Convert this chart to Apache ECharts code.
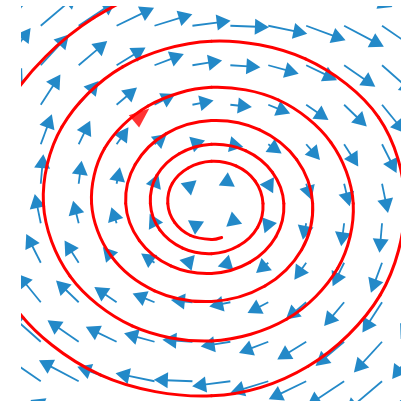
<!DOCTYPE html>
<html>
<head>
<meta charset="utf-8">
<script src="https://cdn.jsdelivr.net/npm/echarts/dist/echarts.min.js"></script>
<style>html,body{margin:0;padding:0;background:#fff}#c{width:401px;height:403px}</style>
</head>
<body>
<div id="c"></div>
<script>
// grid positions of the arrows (data units)
const gridX = [-5.5, -4.5, -3.5, -2.5, -1.5, -0.5, 0.5, 1.5, 2.5, 3.5, 4.5, 5.5];
const gridY = [5.5, 4.5, 3.5, 2.5, 1.5, 0.5, -0.5, -1.5, -2.5, -3.5, -4.5, -5.5];

// horizontal vector component, one row per gridY value
const fieldU = [
  [4.73, 4.77, 4.81, 4.85, 4.89, 4.93, 4.97, 5.01, 5.05, 5.09, 5.13, 5.17],
  [3.83, 3.87, 3.91, 3.95, 3.99, 4.03, 4.07, 4.11, 4.15, 4.19, 4.23, 4.27],
  [2.93, 2.97, 3.01, 3.05, 3.09, 3.13, 3.17, 3.21, 3.25, 3.29, 3.33, 3.37],
  [2.03, 2.07, 2.11, 2.15, 2.19, 2.23, 2.27, 2.31, 2.35, 2.39, 2.43, 2.47],
  [1.13, 1.17, 1.21, 1.25, 1.29, 1.33, 1.37, 1.41, 1.45, 1.49, 1.53, 1.57],
  [0.23, 0.27, 0.31, 0.35, 0.39, 0.43, 0.47, 0.51, 0.55, 0.59, 0.63, 0.67],
  [-0.67, -0.63, -0.59, -0.55, -0.51, -0.47, -0.43, -0.39, -0.35, -0.31, -0.27, -0.23],
  [-1.57, -1.53, -1.49, -1.45, -1.41, -1.37, -1.33, -1.29, -1.25, -1.21, -1.17, -1.13],
  [-2.47, -2.43, -2.39, -2.35, -2.31, -2.27, -2.23, -2.19, -2.15, -2.11, -2.07, -2.03],
  [-3.37, -3.33, -3.29, -3.25, -3.21, -3.17, -3.13, -3.09, -3.05, -3.01, -2.97, -2.93],
  [-4.27, -4.23, -4.19, -4.15, -4.11, -4.07, -4.03, -3.99, -3.95, -3.91, -3.87, -3.83],
  [-5.17, -5.13, -5.09, -5.05, -5.01, -4.97, -4.93, -4.89, -4.85, -4.81, -4.77, -4.73]
];

// vertical vector component, one row per gridY value
const fieldV = [
  [3.85, 3.19, 2.53, 1.87, 1.21, 0.55, -0.11, -0.77, -1.43, -2.09, -2.75, -3.41],
  [3.81, 3.15, 2.49, 1.83, 1.17, 0.51, -0.15, -0.81, -1.47, -2.13, -2.79, -3.45],
  [3.77, 3.11, 2.45, 1.79, 1.13, 0.47, -0.19, -0.85, -1.51, -2.17, -2.83, -3.49],
  [3.73, 3.07, 2.41, 1.75, 1.09, 0.43, -0.23, -0.89, -1.55, -2.21, -2.87, -3.53],
  [3.69, 3.03, 2.37, 1.71, 1.05, 0.39, -0.27, -0.93, -1.59, -2.25, -2.91, -3.57],
  [3.65, 2.99, 2.33, 1.67, 1.01, 0.35, -0.31, -0.97, -1.63, -2.29, -2.95, -3.61],
  [3.61, 2.95, 2.29, 1.63, 0.97, 0.31, -0.35, -1.01, -1.67, -2.33, -2.99, -3.65],
  [3.57, 2.91, 2.25, 1.59, 0.93, 0.27, -0.39, -1.05, -1.71, -2.37, -3.03, -3.69],
  [3.53, 2.87, 2.21, 1.55, 0.89, 0.23, -0.43, -1.09, -1.75, -2.41, -3.07, -3.73],
  [3.49, 2.83, 2.17, 1.51, 0.85, 0.19, -0.47, -1.13, -1.79, -2.45, -3.11, -3.77],
  [3.45, 2.79, 2.13, 1.47, 0.81, 0.15, -0.51, -1.17, -1.83, -2.49, -3.15, -3.81],
  [3.41, 2.75, 2.09, 1.43, 0.77, 0.11, -0.55, -1.21, -1.87, -2.53, -3.19, -3.85]
];

// red trajectory, from its inner end outward
const spiralX = [0.27, 0, -0.55, -0.97, -1.15, -1.03, -0.61, 0, 0.65, 1.15,
  1.36, 1.22, 0.72, 0, -0.76, -1.36, -1.61, -1.44, -0.85, 0,
  0.90, 1.61, 1.91, 1.70, 1.01, 0, -1.07, -1.90, -2.26, -2.01,
  -1.19, 0, 1.26, 2.25, 2.67, 2.38, 1.41, 0, -1.50, -2.66,
  -3.16, -2.82, -1.67, 0, 1.77, 3.15, 3.74, 3.33, 1.98, 0,
  -2.09, -3.73, -4.43, -3.94, -2.34, 0, 2.48, 4.41, 5.10, 4.45,
  2.55, 0, -2.93, -5.22, -6.05, -5.35, -3.10, 0, 3.75, 6.70, 7.80];
const spiralY = [-0.86, -0.91, -0.81, -0.48, 0, 0.51, 0.90, 1.07, 0.95, 0.57,
  0, -0.60, -1.07, -1.27, -1.13, -0.67, 0, 0.71, 1.26, 1.50,
  1.34, 0.79, 0, -0.84, -1.49, -1.77, -1.58, -0.94, 0, 0.99,
  1.77, 2.10, 1.87, 1.11, 0, -1.17, -2.09, -2.48, -2.21, -1.31,
  0, 1.39, 2.47, 2.94, 2.62, 1.55, 0, -1.64, -2.93, -3.48,
  -3.10, -1.84, 0, 1.94, 3.46, 4.11, 3.66, 2.18, 0, -2.32,
  -4.12, -4.87, -4.34, -2.57, 0, 2.55, 4.70, 5.80, 5.60, 3.90, 0];

// direction marker on the trajectory
const markerPoint = [-1.84, 2.24];
const markerRotate = -50;

const BLUE = '#2389c8';
const RED = '#ff0000';
const ARROW_SCALE = 0.25;

const quiverData = [];
gridY.forEach((y, j) => {
  gridX.forEach((x, i) => {
    quiverData.push([x, y, fieldU[j][i], fieldV[j][i]]);
  });
});
const spiralData = spiralX.map((x, i) => [x, spiralY[i]]);

function renderArrow(params, api) {
  const x = api.value(0), y = api.value(1), u = api.value(2), v = api.value(3);
  const p0 = api.coord([x, y]);
  const p1 = api.coord([x + u * ARROW_SCALE, y + v * ARROW_SCALE]);
  const dx = p1[0] - p0[0], dy = p1[1] - p0[1];
  const len = Math.hypot(dx, dy) || 1e-6;
  const ux = dx / len, uy = dy / len;
  const HL = 14, HW = 8;
  const bx = p1[0] - ux * HL, by = p1[1] - uy * HL;
  const children = [];
  if (len > HL) {
    children.push({
      type: 'line',
      shape: { x1: p0[0], y1: p0[1], x2: bx + ux * 2, y2: by + uy * 2 },
      style: { stroke: BLUE, lineWidth: 1.8 }
    });
  }
  children.push({
    type: 'polygon',
    shape: { points: [[p1[0], p1[1]], [bx - uy * HW, by + ux * HW], [bx + uy * HW, by - ux * HW]] },
    style: { fill: BLUE }
  });
  return { type: 'group', children: children };
}

// one smooth (Catmull-Rom) segment of the trajectory per data item
function renderSpiral(params, api) {
  const i = params.dataIndex;
  const n = spiralData.length;
  if (i >= n - 1) return null;
  const P = (k) => api.coord(spiralData[Math.max(0, Math.min(n - 1, k))]);
  const p0 = P(i - 1), p1 = P(i), p2 = P(i + 1), p3 = P(i + 2);
  return {
    type: 'bezierCurve',
    shape: {
      x1: p1[0], y1: p1[1], x2: p2[0], y2: p2[1],
      cpx1: p1[0] + (p2[0] - p0[0]) / 6, cpy1: p1[1] + (p2[1] - p0[1]) / 6,
      cpx2: p2[0] - (p3[0] - p1[0]) / 6, cpy2: p2[1] - (p3[1] - p1[1]) / 6
    },
    style: { stroke: RED, lineWidth: 3, fill: null, lineCap: 'round' }
  };
}

const chart = echarts.init(document.getElementById('c'), null, { renderer: 'canvas' });
chart.setOption({
  animation: false,
  backgroundColor: '#ffffff',
  grid: { left: 21.8, top: 6, width: 390, height: 395, containLabel: false },
  xAxis: { type: 'value', min: -5, max: 5, show: false },
  yAxis: { type: 'value', min: -5, max: 5, show: false },
  series: [
    {
      type: 'custom',
      renderItem: renderArrow,
      data: quiverData,
      clip: true,
      silent: true,
      z: 2
    },
    {
      type: 'custom',
      renderItem: renderSpiral,
      data: spiralData,
      clip: true,
      silent: true,
      z: 3
    },
    {
      type: 'scatter',
      data: [markerPoint],
      symbol: 'triangle',
      symbolSize: [16, 20],
      symbolRotate: markerRotate,
      itemStyle: { color: RED },
      silent: true,
      z: 4
    }
  ]
});
</script>
</body>
</html>
